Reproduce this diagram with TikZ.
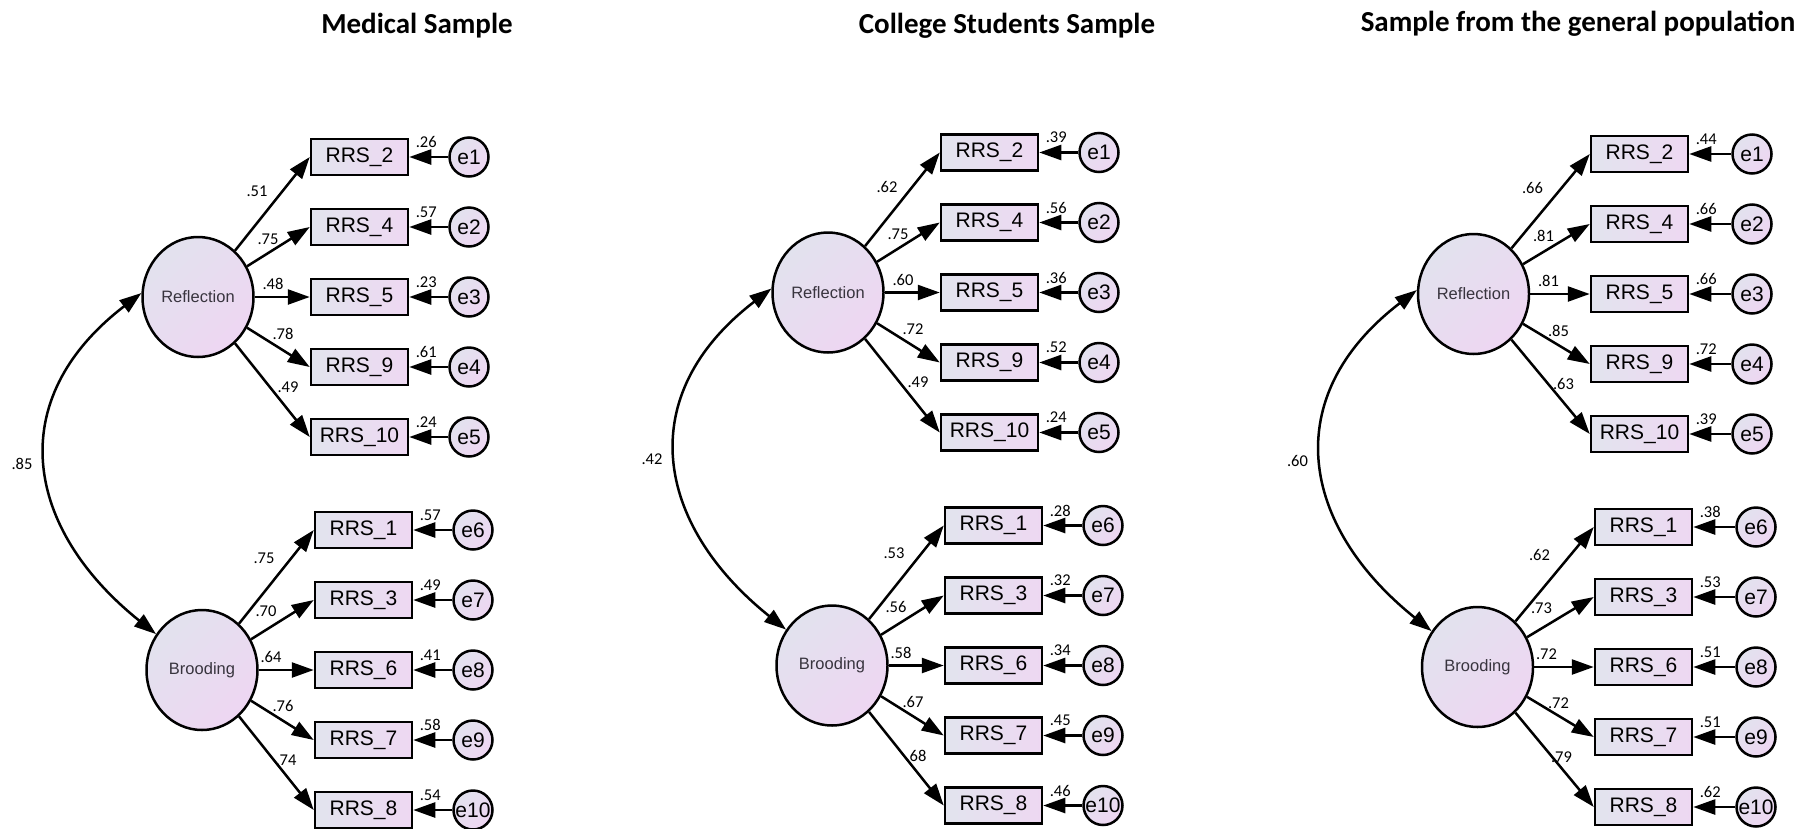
\documentclass[tikz,border=0pt]{standalone}
\usepackage{fontspec}
\setmainfont{Liberation Sans}
\newfontfamily\calib{Carlito}
\usetikzlibrary{shapes.geometric,arrows.meta,calc}
\definecolor{latA}{HTML}{E2E2EE}
\definecolor{latB}{HTML}{EED6F2}
\definecolor{boxA}{HTML}{E2E4EE}
\definecolor{boxB}{HTML}{EED8F2}
\definecolor{txtgray}{HTML}{38343E}
\tikzset{
 latent/.style={ellipse, draw=black, line width=2.5pt, minimum width=111pt, minimum height=120pt, inner sep=0pt,
   top color=latA, bottom color=latB, shading angle=45, font=\fontsize{16.5}{16.5}\selectfont, text=txtgray},
 obs/.style={rectangle, draw=black, line width=2.5pt, minimum width=97pt, minimum height=36pt, inner sep=0pt,
   left color=boxA, right color=boxB, font=\fontsize{21}{21}\selectfont},
 errc/.style={circle, draw=black, line width=2.5pt, minimum size=39pt, inner sep=0pt,
   top color=latA, bottom color=latB, shading angle=45},
 etxt/.style={font=\fontsize{21}{21}\selectfont, inner sep=0pt},
 num/.style={font=\calib\fontsize{16.5}{16.5}\selectfont, inner sep=0pt},
 arr/.style={line width=2.5pt, -{Triangle[length=22pt,width=15pt]}},
 cov/.style={line width=2.5pt, {Triangle[length=22pt,width=15pt]}-{Triangle[length=22pt,width=15pt]}},
 ttl/.style={font=\calib\bfseries\fontsize{29}{29}\selectfont, anchor=base, inner sep=0pt}
}
% #1 prefix, #2 reflection centre, #3 box dx, #4 error dx, #5 top list, #6 bottom list, #7 covariance
\newcommand\semPanel[7]{%
\begin{scope}[shift={#2}]
 \node[latent] (#1R) at (0,0) {Reflection};
 \node[latent] (#1B) at (4,373) {Brooding};
 \foreach \itm/\en/\ld/\rs/\lx/\ly [count=\k] in {#5}{
   \node[obs] (#1x\itm) at ({#3},{70*(\k-3)}) {RRS\_\itm};
   \node[errc, label={[etxt]center:e\en}] (#1e\en) at ({#4},{70*(\k-3)}) {};
   \draw[arr] (#1R) -- (#1x\itm.west);
   \draw[arr] (#1e\en) -- (#1x\itm.east);
   \node[num] (#1l\itm) at (\lx,\ly) {\ld};
   \node[num] (#1r\itm) at ($(#1x\itm.east)+(17,-15)$) {\rs};
 }
 \foreach \itm/\en/\ld/\rs/\lx/\ly [count=\k] in {#6}{
   \node[obs] (#1x\itm) at ({#3+4},{373+70*(\k-3)}) {RRS\_\itm};
   \node[errc, label={[etxt]center:e\en}] (#1e\en) at ({#4+4},{373+70*(\k-3)}) {};
   \draw[arr] (#1B) -- (#1x\itm.west);
   \draw[arr] (#1e\en) -- (#1x\itm.east);
   \node[num] (#1l\itm) at ({4+\lx},{373+\ly}) {\ld};
   \node[num] (#1r\itm) at ($(#1x\itm.east)+(17,-15)$) {\rs};
 }
 \draw[cov] (#1B.142) .. controls (-173,232) and (-196,103) .. (#1R.176);
 \node[num] (#1cov) at (-176,167) {#7};
\end{scope}}
\begin{document}
\begin{tikzpicture}[x=1pt,y=-1pt]
\useasboundingbox[fill=white] (0,0) rectangle (1807,828);
\node[ttl] (t1) at (417,33) {Medical Sample};
\node[ttl] (t2) at (1007,33) {College Students Sample};
\node[ttl] (t3) at (1578,31) {Sample from the general population};
\semPanel{a}{(198,297)}{161.5}{271}%
 {2/1/.51/.26/59/-106, 4/2/.75/.57/70/-58, 5/3/.48/.23/75/-13, 9/4/.78/.61/85/37, 10/5/.49/.24/90/90}%
 {1/6/.75/.57/62/-112, 3/7/.70/.49/64/-59, 6/8/.64/.41/69/-13, 7/9/.76/.58/81/36, 8/10/.74/.54/84/90}{.85}
\semPanel{b}{(828,292.5)}{161.5}{271}%
 {2/1/.62/.39/59/-106, 4/2/.75/.56/70/-58, 5/3/.60/.36/75/-13, 9/4/.72/.52/85/37, 10/5/.49/.24/90/90}%
 {1/6/.53/.28/62/-112, 3/7/.56/.32/64/-59, 6/8/.58/.34/69/-13, 7/9/.67/.45/81/36, 8/10/.68/.46/84/90}{.42}
\semPanel{c}{(1473.5,294)}{166}{278.5}%
 {2/1/.66/.44/59/-106, 4/2/.81/.66/70/-58, 5/3/.81/.66/75/-13, 9/4/.85/.72/85/37, 10/5/.63/.39/90/90}%
 {1/6/.62/.38/62/-112, 3/7/.73/.53/64/-59, 6/8/.72/.51/69/-13, 7/9/.72/.51/81/36, 8/10/.79/.62/84/90}{.60}
\end{tikzpicture}
\end{document}
